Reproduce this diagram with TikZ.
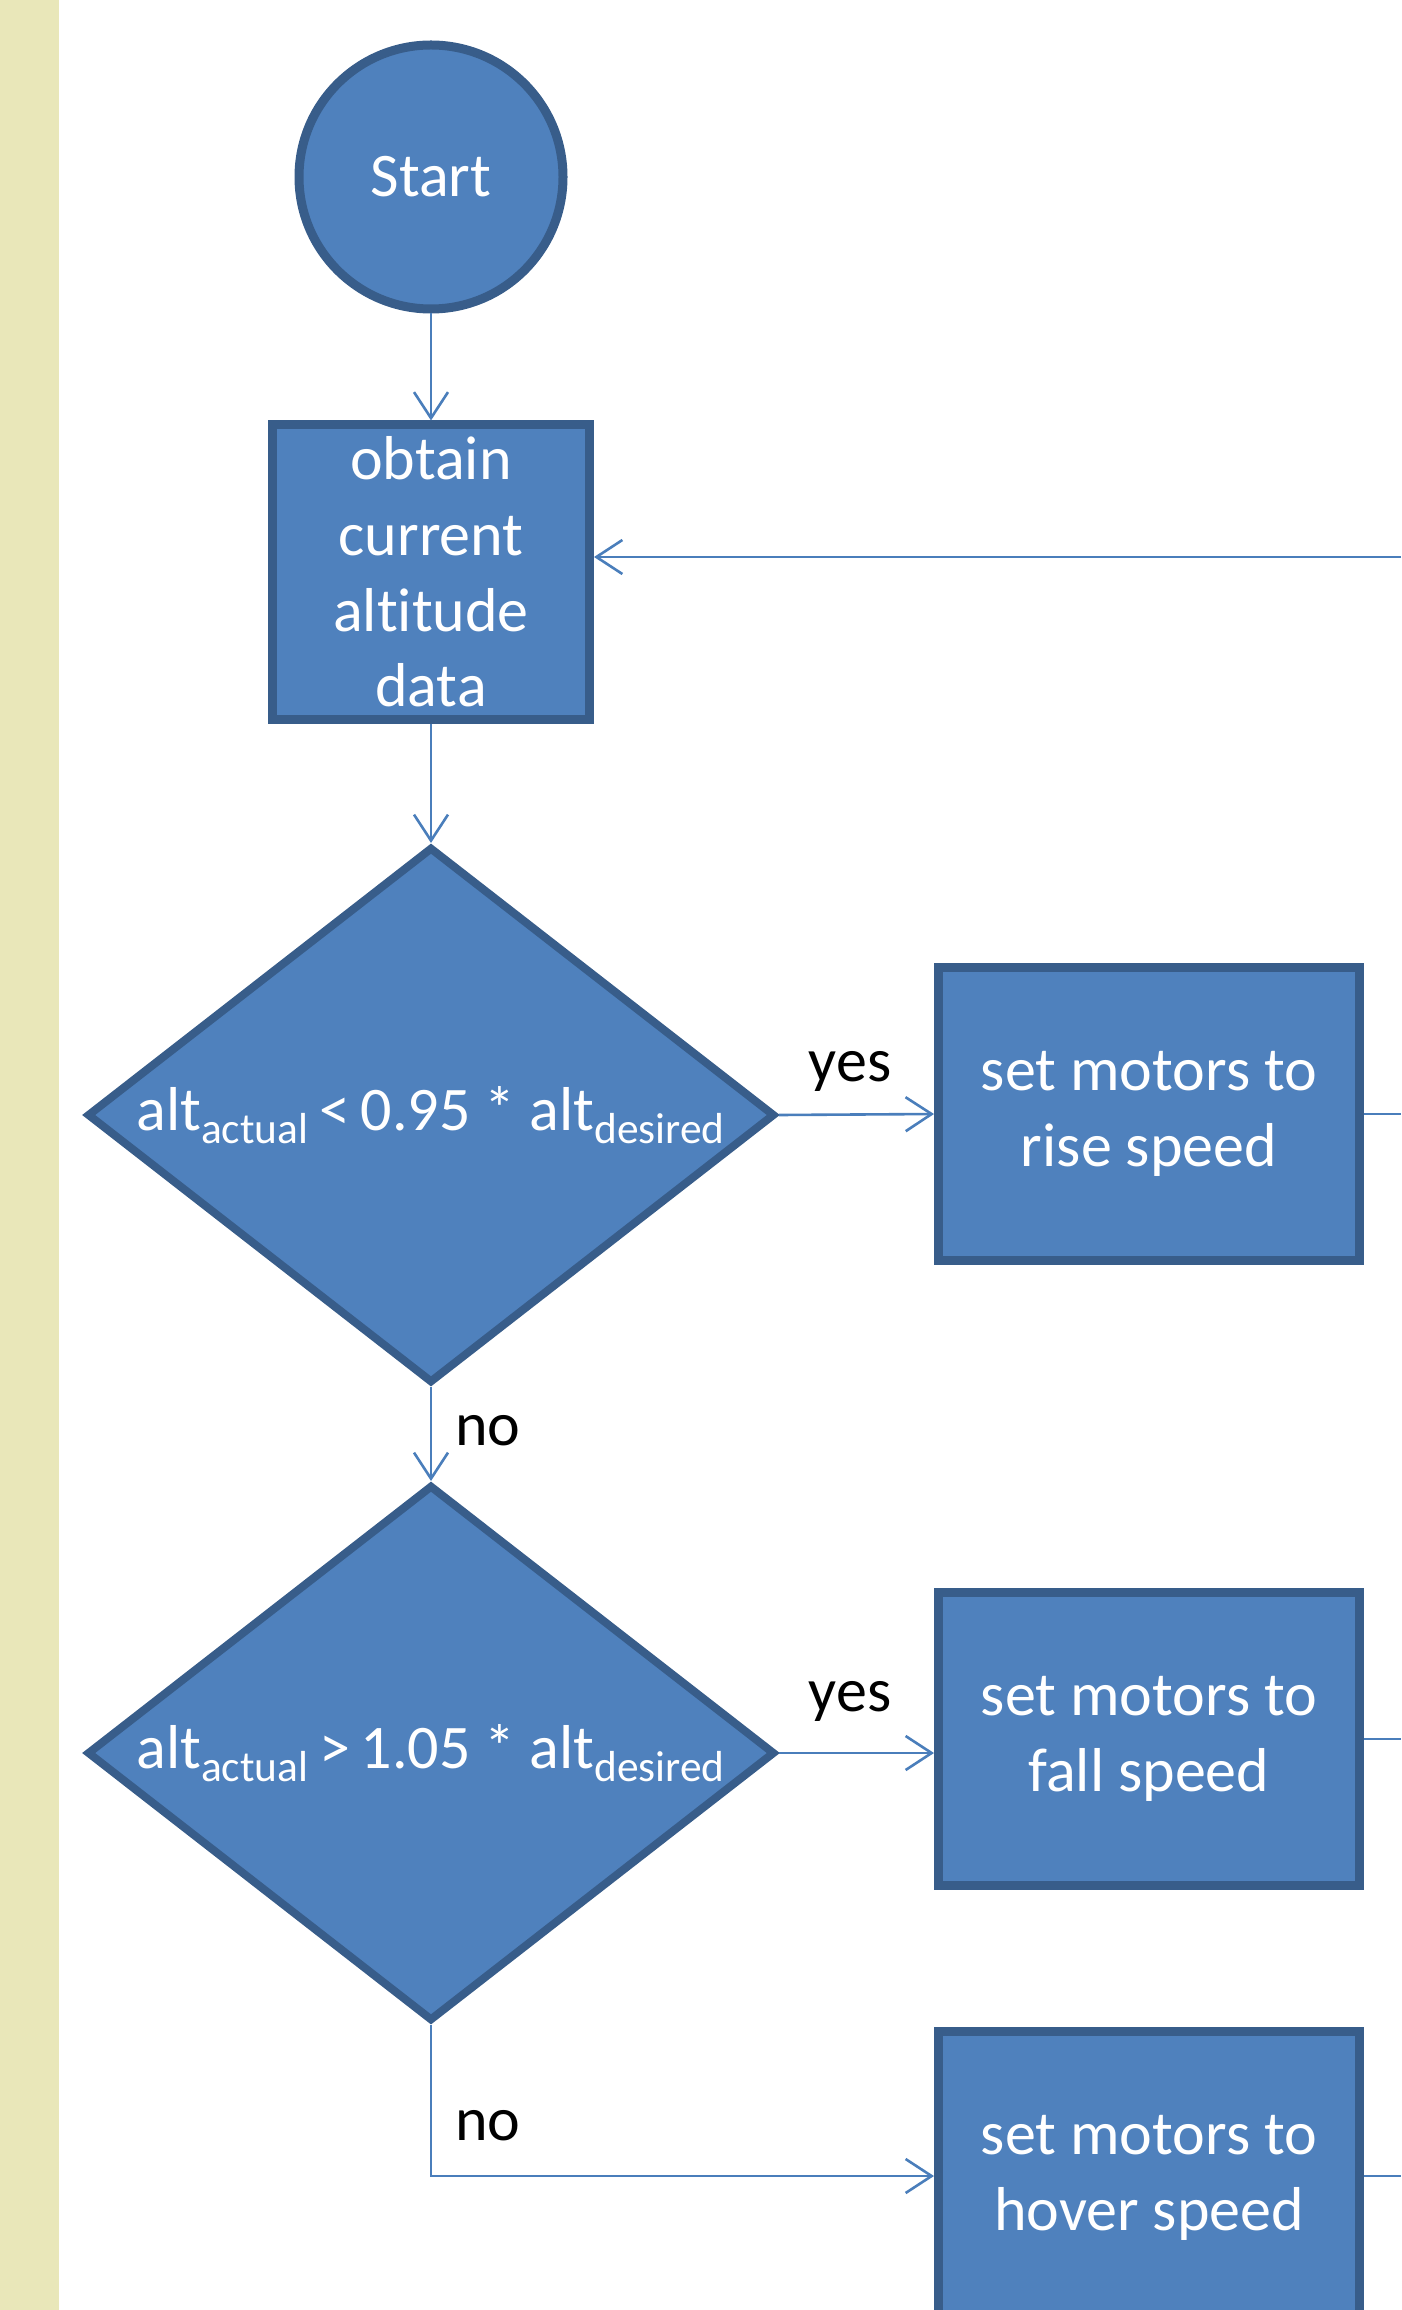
\documentclass[tikz,border=0pt]{standalone}
\usepackage{fontspec}
\setmainfont{Carlito}[Ligatures={NoCommon,NoContextual}]
\usetikzlibrary{shapes.geometric,arrows.meta,calc}
\definecolor{fillblue}{HTML}{4F81BD}
\definecolor{edgeblue}{HTML}{385D8A}
\definecolor{lineblue}{HTML}{4A7EBB}
\definecolor{stripcol}{HTML}{E9E7B9}
\begin{document}
\begin{tikzpicture}[x=0.5pt,y=-0.5pt,
  shapebase/.style={draw=edgeblue, fill=fillblue, line width=4.5pt, text=white,
    font=\fontsize{31}{37.8}\selectfont, inner sep=0pt, align=center},
  procbox/.style={shapebase, rectangle, minimum width=158.5pt, minimum height=147pt},
  actbox/.style={shapebase, rectangle, minimum width=210.5pt, minimum height=146.5pt},
  decision/.style={shapebase, diamond, aspect=1.28, minimum width=344pt, minimum height=268pt, line width=4pt},
  startnode/.style={shapebase, circle, minimum size=132pt},
  conn/.style={draw=lineblue, line width=1.3pt},
  arr/.style={conn, -{Straight Barb[length=13pt,width=17pt]}},
  lab/.style={text=black, font=\fontsize{31}{37.8}\selectfont, inner sep=0pt}
]
\useasboundingbox (0,0) rectangle (1401,2310);
\fill[stripcol] (0,0) rectangle (59,2310);

\node[startnode] (start) at (431,177) {Start};
\node[procbox] (obtain) at (431,572) {obtain\\current\\altitude\\data};
\node[decision] (d1) at (431,1115) {alt\textsubscript{actual}\,<\,0.95 * alt\textsubscript{desired}};
\node[actbox] (rise) at (1149,1114) {set motors to\\rise speed};
\node[decision] (d2) at (431,1753) {alt\textsubscript{actual}\,>\,1.05 * alt\textsubscript{desired}};
\node[actbox] (fall) at (1149,1739) {set motors to\\fall speed};
\node[actbox] (hover) at (1149,2178) {set motors to\\hover speed};

\coordinate (fbIn) at (1401,557);
\coordinate (riseOut) at (1401,1114);
\coordinate (fallOut) at (1401,1739);
\coordinate (hoverOut) at (1401,2176);

\draw[arr] (start) -- (obtain);
\draw[arr] (fbIn) -- (fbIn -| obtain.east);
\draw[arr] (obtain) -- (d1);
\draw[arr] (d1.east) -- (rise.west);
\draw[conn] (rise.east) -- (riseOut);
\draw[arr] (d1.south) -- (d2.north);
\draw[arr] (d2.east) -- (d2.east -| fall.west);
\draw[conn] (fall.east) -- (fallOut);
\draw[arr] (d2.south) |- (hoverOut -| hover.west);
\draw[conn] (hoverOut -| hover.east) -- (hoverOut);

\node[lab] (yes1) at (850,1071) {yes};
\node[lab] (no1) at (488,1431) {no};
\node[lab] (yes2) at (850,1701) {yes};
\node[lab] (no2) at (488,2126) {no};
\end{tikzpicture}
\end{document}
